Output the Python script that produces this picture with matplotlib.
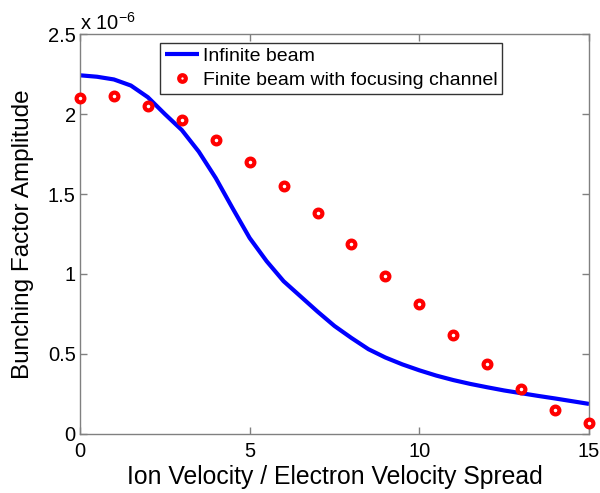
import numpy as np
import matplotlib
matplotlib.use("Agg")
import matplotlib.pyplot as plt

plt.rcParams['font.family'] = ['Liberation Sans', 'DejaVu Sans']
plt.rcParams['mathtext.fontset'] = 'custom'
plt.rcParams['mathtext.rm'] = 'Liberation Sans'
plt.rcParams['mathtext.it'] = 'Liberation Sans'

# Infinite beam curve (values in units of 1e-6)
inf_x = [0, 0.5, 1, 1.5, 2, 2.5, 3, 3.5, 4, 4.5, 5, 5.5, 6, 6.5, 7, 7.5,
         8, 8.5, 9, 9.5, 10, 10.5, 11, 11.5, 12, 12.5, 13, 13.5, 14, 14.5, 15]
inf_y = [2.242, 2.233, 2.216, 2.178, 2.105, 2.00, 1.90, 1.765, 1.60, 1.41,
         1.225, 1.08, 0.955, 0.86, 0.765, 0.675, 0.60, 0.53, 0.478, 0.435,
         0.398, 0.365, 0.337, 0.313, 0.292, 0.272, 0.255, 0.238, 0.222,
         0.205, 0.188]

# Finite beam with focusing channel (values in units of 1e-6)
fin_x = [0, 1, 2, 3, 4, 5, 6, 7, 8, 9, 10, 11, 12, 13, 14, 15]
fin_y = [2.10, 2.11, 2.05, 1.96, 1.84, 1.70, 1.55, 1.38, 1.19, 0.99, 0.81,
         0.62, 0.44, 0.28, 0.15, 0.07]

x_ticks = [0, 5, 10, 15]
y_ticks = [0, 0.5, 1, 1.5, 2, 2.5]
y_tick_labels = ['0', '0.5', '1', '1.5', '2', '2.5']

fig = plt.figure(figsize=(6, 4.93), dpi=100)
ax = fig.add_axes([0.1333, 0.1197, 0.8484, 0.8113])

ax.plot(inf_x, inf_y, color='#0000ff', lw=3.0, label='Infinite beam',
        solid_joinstyle='round', solid_capstyle='butt', zorder=2)
ax.plot(fin_x, fin_y, ls='none', marker='o', ms=5.6, mew=3.0,
        mec='#ff0000', mfc='white', label='Finite beam with focusing channel',
        zorder=3, clip_on=False)

ax.set_xlim(0, 15)
ax.set_ylim(0, 2.5)
ax.set_xticks(x_ticks)
ax.set_yticks(y_ticks)
ax.set_yticklabels(y_tick_labels)

for s in ax.spines.values():
    s.set_color('#808080')
    s.set_linewidth(1.0)
ax.tick_params(direction='in', length=5, width=1, color='#808080',
               top=True, right=True, labelsize=14.5)
ax.tick_params(axis='x', pad=6)
ax.tick_params(axis='y', pad=3)

ax.set_xlabel('Ion Velocity / Electron Velocity Spread', fontsize=17.8, labelpad=3)
ax.set_ylabel('Bunching Factor Amplitude', fontsize=17.5, labelpad=10)

ax.text(0.0, 1.0, r'x 10$^{-6}$', transform=ax.transAxes, fontsize=14.5,
        ha='left', va='bottom')

leg = ax.legend(loc='upper left', bbox_to_anchor=(0.157, 0.978), fontsize=14.0,
                frameon=True, fancybox=False, borderpad=0.25, handlelength=1.75,
                handletextpad=0.2, labelspacing=0.3, borderaxespad=0,
                markerscale=0.85)
leg.get_frame().set_edgecolor('black')
leg.get_frame().set_linewidth(1.0)

fig.savefig('out.png', dpi=100)
